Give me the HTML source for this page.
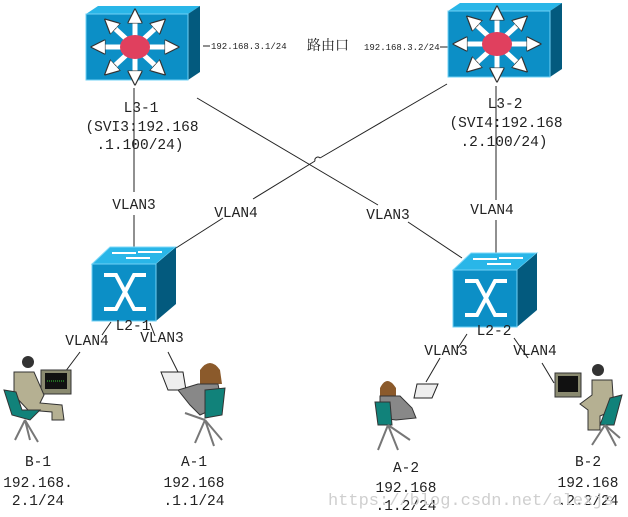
<!DOCTYPE html>
<html><head><meta charset="utf-8"><style>
html,body{margin:0;padding:0;background:#fff}
svg{display:block}
text{font-family:"Liberation Mono","Noto Serif CJK SC",monospace;fill:#222}
</style></head><body>
<svg width="628" height="517" viewBox="0 0 628 517" xmlns="http://www.w3.org/2000/svg">
<defs>
<marker id="ah" viewBox="0 0 10 10" refX="5" refY="5" markerWidth="3" markerHeight="3" orient="auto"><path d="M0,0L10,5L0,10z" fill="#fff" stroke="#333" stroke-width="0.8"/></marker>
<g id="l3">
 <polygon points="0,8 12,0 114,0 102,8" fill="#29b6e8"/>
 <polygon points="102,8 114,0 114,66 102,74" fill="#035a7e"/>
 <rect x="0" y="8" width="102" height="66" fill="#0c8fc6" stroke="#6fd0f5" stroke-width="1"/>
 <g stroke="#fff" stroke-width="5" marker-end="url(#ah)">
  <line x1="49" y1="41" x2="49" y2="10"/><line x1="49" y1="41" x2="49" y2="72"/>
  <line x1="49" y1="41" x2="12" y2="41"/><line x1="49" y1="41" x2="86" y2="41"/>
  <line x1="49" y1="41" x2="24" y2="18"/><line x1="49" y1="41" x2="74" y2="18"/>
  <line x1="49" y1="41" x2="24" y2="64"/><line x1="49" y1="41" x2="74" y2="64"/>
 </g>
 <ellipse cx="49" cy="41" rx="15" ry="12" fill="#e0405e"/>
</g>
<g id="l2">
 <polygon points="0,17 18,0 84,0 64,17" fill="#29b6e8" stroke="#7fd8f8" stroke-width="1"/>
 <g stroke="#fff" stroke-width="2"><line x1="20" y1="6" x2="44" y2="6"/><line x1="34" y1="11" x2="58" y2="11"/><line x1="46" y1="5" x2="70" y2="5"/></g>
 <polygon points="64,17 84,0 84,57 64,74" fill="#035a7e"/>
 <rect x="0" y="17" width="64" height="57" fill="#0c8fc6" stroke="#6fd0f5" stroke-width="1"/>
 <g stroke="#fff" stroke-width="4" fill="none">
  <path d="M12,28 L24,28 L42,62 L54,62"/><path d="M12,62 L24,62 L42,28 L54,28"/>
 </g>
</g>
</defs>
<g stroke="#222" stroke-width="1" fill="none">
 <line x1="134" y1="88" x2="134" y2="192"/><line x1="134" y1="215" x2="134" y2="250"/>
 <line x1="197" y1="98" x2="378" y2="205"/><line x1="408" y1="222" x2="462" y2="258"/>
 <line x1="447" y1="84" x2="320" y2="158"/><path d="M320,158 a3,3 0 0 0 -5,3"/><line x1="315" y1="161" x2="253" y2="199"/><line x1="223" y1="218" x2="176" y2="248"/>
 <line x1="496" y1="86" x2="496" y2="200"/><line x1="496" y1="220" x2="496" y2="256"/>
 <line x1="203" y1="46" x2="210" y2="46"/><line x1="440" y1="47" x2="448" y2="47"/>
 <line x1="111" y1="322" x2="102" y2="335"/><line x1="80" y1="352" x2="65" y2="372"/>
 <line x1="150" y1="323" x2="155" y2="336"/><line x1="168" y1="352" x2="178" y2="372"/>
 <line x1="467" y1="334" x2="458" y2="348"/><line x1="440" y1="358" x2="426" y2="382"/>
 <line x1="514" y1="338" x2="528" y2="358"/><line x1="542" y1="363" x2="554" y2="383"/>
</g>
<use href="#l3" x="86" y="6"/>
<use href="#l3" x="448" y="3"/>
<use href="#l2" x="92" y="247"/>
<use href="#l2" x="453" y="253"/>
<g font-size="9"><text x="211" y="49">192.168.3.1/24</text><text x="364" y="50">192.168.3.2/24</text></g>
<text x="307" y="50" font-size="14" style="font-family:'Noto Serif CJK SC',serif">路由口</text>
<g font-size="14.5" text-anchor="middle">
 <text x="141" y="112">L3-1</text><text x="142" y="131">(SVI3:192.168</text><text x="140" y="149">.1.100/24)</text>
 <text x="505" y="108">L3-2</text><text x="506" y="127">(SVI4:192.168</text><text x="504" y="146">.2.100/24)</text>
 <text x="134" y="209">VLAN3</text><text x="236" y="217">VLAN4</text><text x="388" y="219">VLAN3</text><text x="492" y="214">VLAN4</text>
 <text x="133" y="330">L2-1</text><text x="87" y="345">VLAN4</text><text x="162" y="342">VLAN3</text>
 <text x="494" y="335">L2-2</text><text x="446" y="355">VLAN3</text><text x="535" y="355">VLAN4</text>
 <text x="38" y="466">B-1</text><text x="38" y="487">192.168.</text><text x="38" y="505">2.1/24</text>
 <text x="194" y="466">A-1</text><text x="194" y="487">192.168</text><text x="194" y="505">.1.1/24</text>
 <text x="406" y="472">A-2</text><text x="406" y="492">192.168</text><text x="406" y="510">.1.2/24</text>
 <text x="588" y="466">B-2</text><text x="588" y="487">192.168</text><text x="588" y="505">.2.2/24</text>
</g>
<text x="328" y="505" font-size="17" style="fill:#cfcfcf">https://blog.csdn.net/alexjs</text>
<!-- B-1 -->
<g>
 <rect x="41" y="370" width="30" height="24" fill="#8a8a70" stroke="#333"/><rect x="45" y="373" width="22" height="16" fill="#111"/>
 <line x1="47" y1="381" x2="65" y2="381" stroke="#3c3" stroke-dasharray="1,1"/>
 <circle cx="28" cy="362" r="6" fill="#333"/>
 <path d="M14,372 L34,372 L44,395 L40,403 L62,405 L64,420 L52,420 L52,412 L28,410 L14,395z" fill="#b5b092" stroke="#333"/>
 <path d="M4,390 L16,392 L22,410 L40,410 L30,420 L12,415z" fill="#11827a" stroke="#333"/>
 <path d="M25,420 L15,440 M25,420 L38,442 M25,420 L30,440" stroke="#777" stroke-width="2"/>
</g>
<!-- A-1 -->
<g>
 <path d="M161,372 L183,372 L186,390 L168,390z" fill="#eee" stroke="#222"/>
 <path d="M200,370 q10,-14 20,0 l2,14 h-22z" fill="#8b5a2b"/>
 <path d="M198,384 L218,384 L222,405 L200,415 L190,405 L178,390 L185,388z" fill="#888" stroke="#333"/>
 <path d="M205,390 L225,388 L222,415 L205,418z" fill="#11827a" stroke="#333"/>
 <path d="M185,413 L205,420 M205,420 L195,443 M205,420 L214,446 M205,420 L222,440" stroke="#777" stroke-width="2"/>
</g>
<!-- A-2 -->
<g>
 <path d="M380,388 q7,-14 16,0 l0,10 h-16z" fill="#8b5a2b"/>
 <path d="M417,384 L438,384 L432,398 L414,398z" fill="#eee" stroke="#222"/>
 <path d="M380,396 L400,396 L412,408 L416,418 L396,420 L380,418z" fill="#888" stroke="#333"/>
 <path d="M375,402 L390,402 L392,425 L378,425z" fill="#11827a" stroke="#333"/>
 <path d="M388,425 L378,450 M388,425 L398,450 M388,425 L410,440" stroke="#777" stroke-width="2"/>
</g>
<!-- B-2 -->
<g>
 <rect x="555" y="373" width="26" height="24" fill="#8a8a70" stroke="#333"/><rect x="558" y="376" width="20" height="16" fill="#111"/>
 <circle cx="598" cy="370" r="6" fill="#333"/>
 <path d="M592,380 L612,380 L614,410 L600,416 L600,430 L588,430 L588,410 L580,404 L592,395z" fill="#b5b092" stroke="#333"/>
 <path d="M610,398 L622,395 L614,425 L600,425z" fill="#11827a" stroke="#333"/>
 <path d="M605,425 L592,445 M605,425 L616,446 M605,425 L620,438" stroke="#777" stroke-width="2"/>
</g>
</svg>
</body></html>
